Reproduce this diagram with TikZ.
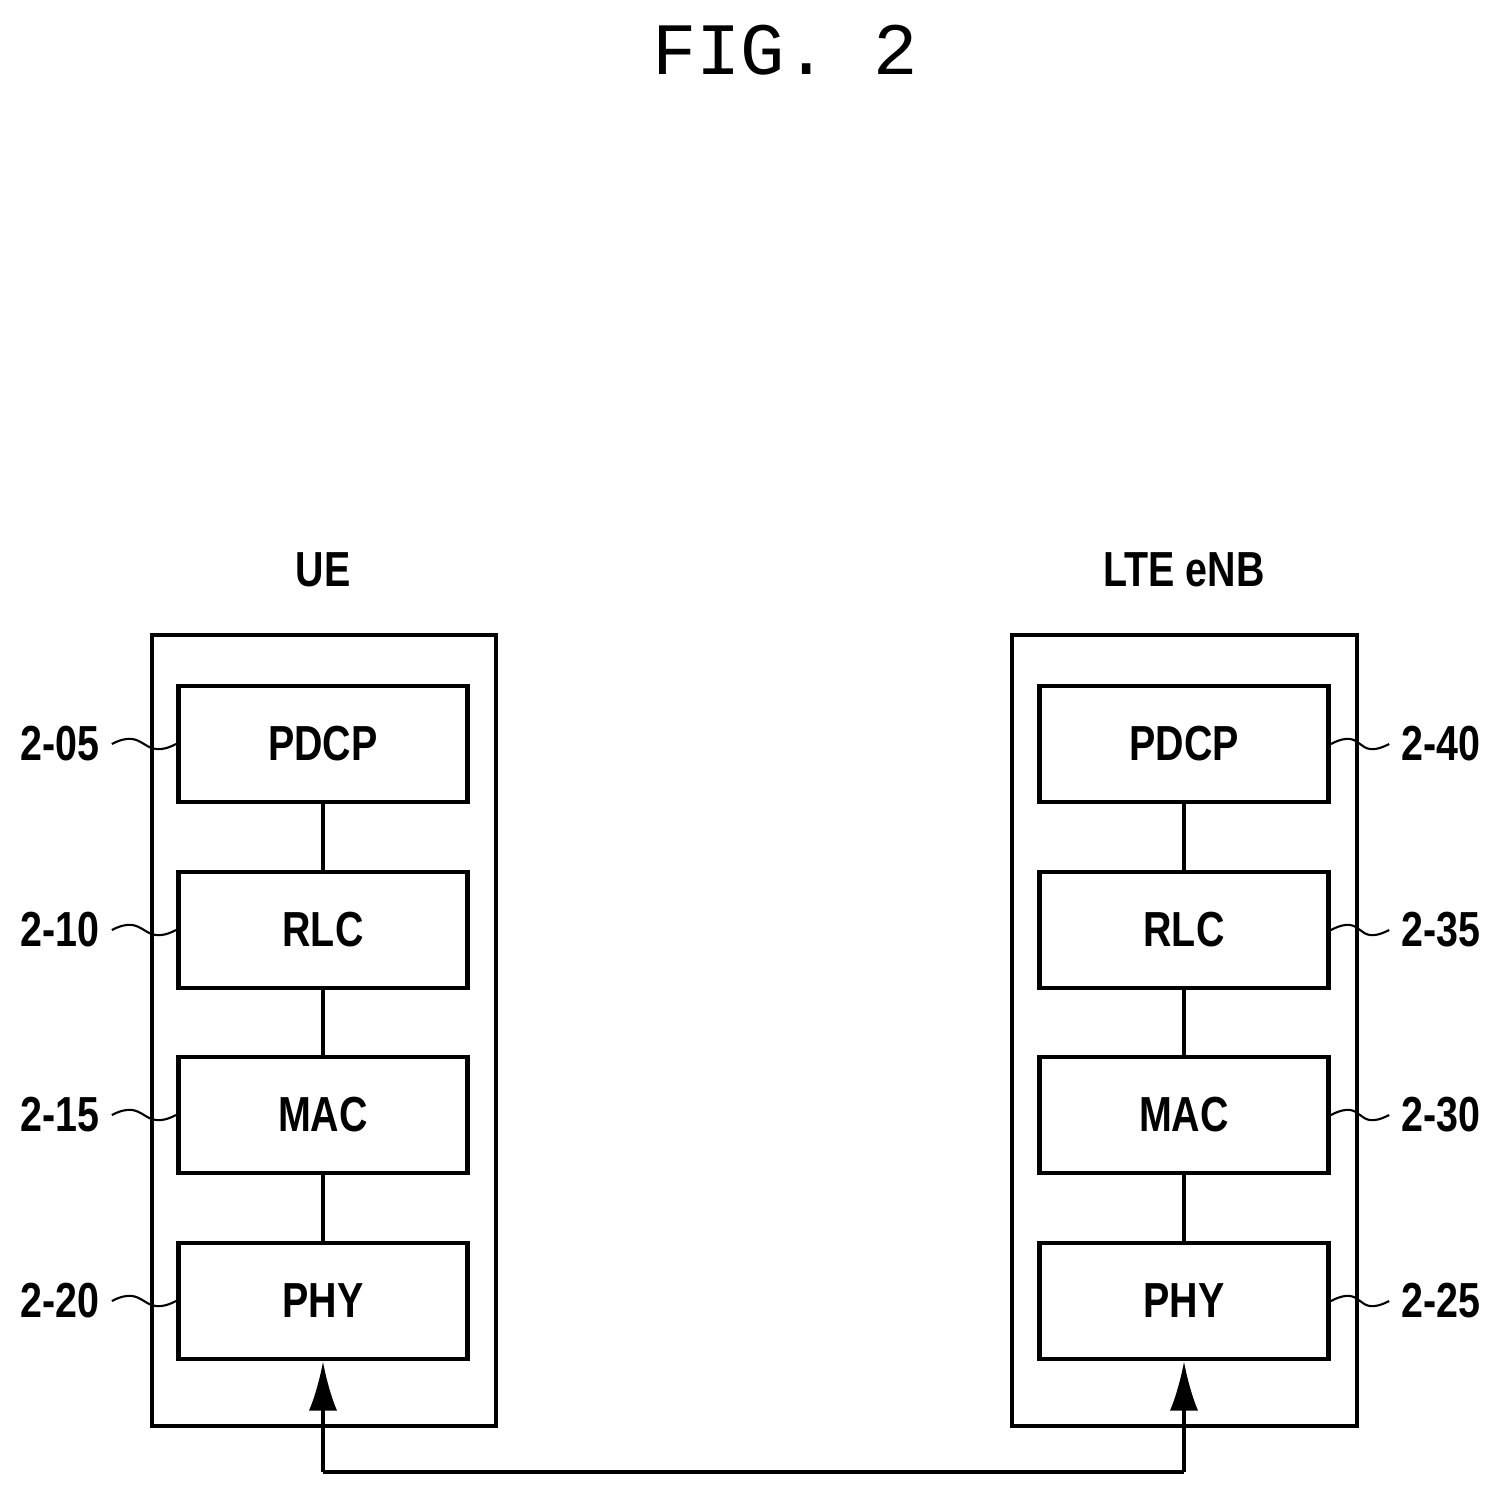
\documentclass[tikz,border=0pt]{standalone}
\usepackage{fontspec}
\setsansfont{Liberation Sans}
\setmonofont{Liberation Mono}
\usetikzlibrary{arrows.meta}
\newcommand{\narrowtxt}[1]{\scalebox{0.8}[1]{#1}}
\tikzset{
    layer/.style={draw, line width=1.3pt, minimum width=2.89cm, minimum height=1.16cm, font=\sffamily\bfseries\fontsize{14}{14}\selectfont},
    stack/.style={draw, line width=1.4pt},
    ref/.style={font=\sffamily\bfseries\fontsize{14}{14}\selectfont},
    squig/.style={line width=0.6pt, to path={.. controls +(35,-18) and +(-35,18) .. (\tikztotarget)}}
}
\begin{document}
\begin{tikzpicture}[x=0.01cm, y=-0.01cm]
    \useasboundingbox (0,0) rectangle (1503,1494);
    \node at (785,50) {\ttfamily\fontsize{21}{21}\selectfont FIG. 2};

    \node (ue) [ref] at (323,570) {\narrowtxt{UE}};
    \node (enb) [ref] at (1184,570) {\narrowtxt{LTE eNB}};
    \draw[stack] (152,635) rectangle (496,1426);
    \draw[stack] (1012,635) rectangle (1357,1426);

    \node (pdcpa) [layer] at (323,744) {\narrowtxt{PDCP}};
    \node (rlca) [layer] at (323,930) {\narrowtxt{RLC}};
    \node (maca) [layer] at (323,1115) {\narrowtxt{MAC}};
    \node (phya) [layer] at (323,1301) {\narrowtxt{PHY}};

    \node (pdcpb) [layer] at (1184,744) {\narrowtxt{PDCP}};
    \node (rlcb) [layer] at (1184,930) {\narrowtxt{RLC}};
    \node (macb) [layer] at (1184,1115) {\narrowtxt{MAC}};
    \node (phyb) [layer] at (1184,1301) {\narrowtxt{PHY}};

    \node (r05) [ref] at (60,744) {\narrowtxt{2-05}};
    \node (r10) [ref] at (60,930) {\narrowtxt{2-10}};
    \node (r15) [ref] at (60,1115) {\narrowtxt{2-15}};
    \node (r20) [ref] at (60,1301) {\narrowtxt{2-20}};
    \node (r40) [ref] at (1441,744) {\narrowtxt{2-40}};
    \node (r35) [ref] at (1441,930) {\narrowtxt{2-35}};
    \node (r30) [ref] at (1441,1115) {\narrowtxt{2-30}};
    \node (r25) [ref] at (1441,1301) {\narrowtxt{2-25}};

    \coordinate (la) at (323,1472);
    \coordinate (lb) at (1184,1472);

    \draw[line width=1pt] (pdcpa) -- (rlca) -- (maca) -- (phya);
    \draw[line width=1pt] (pdcpb) -- (rlcb) -- (macb) -- (phyb);
    \draw[line width=1pt, -{Latex[length=14pt,width=8pt]}] (la) -- (phya.south);
    \draw[line width=1pt, -{Latex[length=14pt,width=8pt]}] (lb) -- (phyb.south);
    \draw[line width=1pt] (la) -- (lb);

    \draw[squig] (r05.east) to (pdcpa.west);
    \draw[squig] (r10.east) to (rlca.west);
    \draw[squig] (r15.east) to (maca.west);
    \draw[squig] (r20.east) to (phya.west);
    \draw[squig] (pdcpb.east) to (r40.west);
    \draw[squig] (rlcb.east) to (r35.west);
    \draw[squig] (macb.east) to (r30.west);
    \draw[squig] (phyb.east) to (r25.west);
\end{tikzpicture}
\end{document}
